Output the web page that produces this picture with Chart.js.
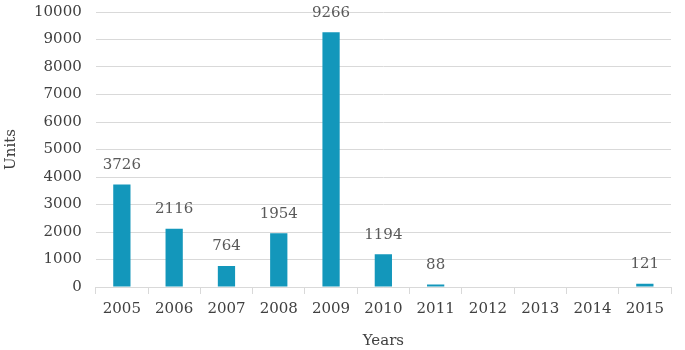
<!DOCTYPE html>
<html>
<head>
<meta charset="utf-8">
<script src="https://cdn.jsdelivr.net/npm/chart.js@4"></script>
<style>
  html, body { margin: 0; padding: 0; background: #fff; }
  #wrap { width: 685px; height: 350px; }
</style>
</head>
<body>
<div id="wrap"><canvas id="chart"></canvas></div>
<script>
const years = ["2005", "2006", "2007", "2008", "2009", "2010", "2011", "2012", "2013", "2014", "2015"];
const units = [3726, 2116, 764, 1954, 9266, 1194, 88, null, null, null, 121];
const yTicks = [0, 1000, 2000, 3000, 4000, 5000, 6000, 7000, 8000, 9000, 10000];

const FONT = "'DejaVu Serif', serif";

// draws the value above each bar
const valueLabels = {
    id: "valueLabels",
    afterDatasetsDraw(chart) {
        const ctx = chart.ctx;
        const meta = chart.getDatasetMeta(0);
        ctx.save();
        ctx.font = "15px " + FONT;
        ctx.fillStyle = "#595959";
        ctx.textAlign = "center";
        ctx.textBaseline = "bottom";
        meta.data.forEach((bar, i) => {
            const v = units[i];
            if (v == null) return;
            ctx.fillText(String(v), bar.x, bar.y - 12);
        });
        ctx.restore();
    }
};

const ctx = document.getElementById("chart").getContext("2d");
new Chart(ctx, {
    type: "bar",
    data: {
        labels: years,
        datasets: [{
            label: "Units",
            data: units,
            backgroundColor: "#1397bb",
            barPercentage: 0.33,
            categoryPercentage: 1
        }]
    },
    options: {
        responsive: true,
        maintainAspectRatio: false,
        animation: false,
        layout: { padding: { top: 0, right: 14, left: 2, bottom: 0 } },
        plugins: { legend: { display: false }, tooltip: { enabled: false } },
        scales: {
            x: {
                grid: { drawOnChartArea: false, drawTicks: true, tickLength: 7, color: "#d9d9d9", offset: true },
                border: { color: "#d9d9d9" },
                ticks: { color: "#404040", font: { family: FONT, size: 15 }, padding: 6 },
                title: { display: true, text: "Years", color: "#404040", font: { family: FONT, size: 15 }, padding: { top: 8, bottom: 0 } }
            },
            y: {
                min: 0,
                max: 10000,
                afterBuildTicks(axis) { axis.ticks = yTicks.map(v => ({ value: v })); },
                afterFit(axis) { axis.paddingTop = 12; },
                grid: { color: "#d9d9d9", drawTicks: false },
                border: { display: false },
                ticks: { color: "#404040", font: { family: FONT, size: 15 }, padding: 14, callback: v => String(v) },
                title: { display: true, text: "Units", color: "#404040", font: { family: FONT, size: 15 }, padding: { top: 0, bottom: 0 } }
            }
        }
    },
    plugins: [valueLabels]
});
</script>
</body>
</html>
